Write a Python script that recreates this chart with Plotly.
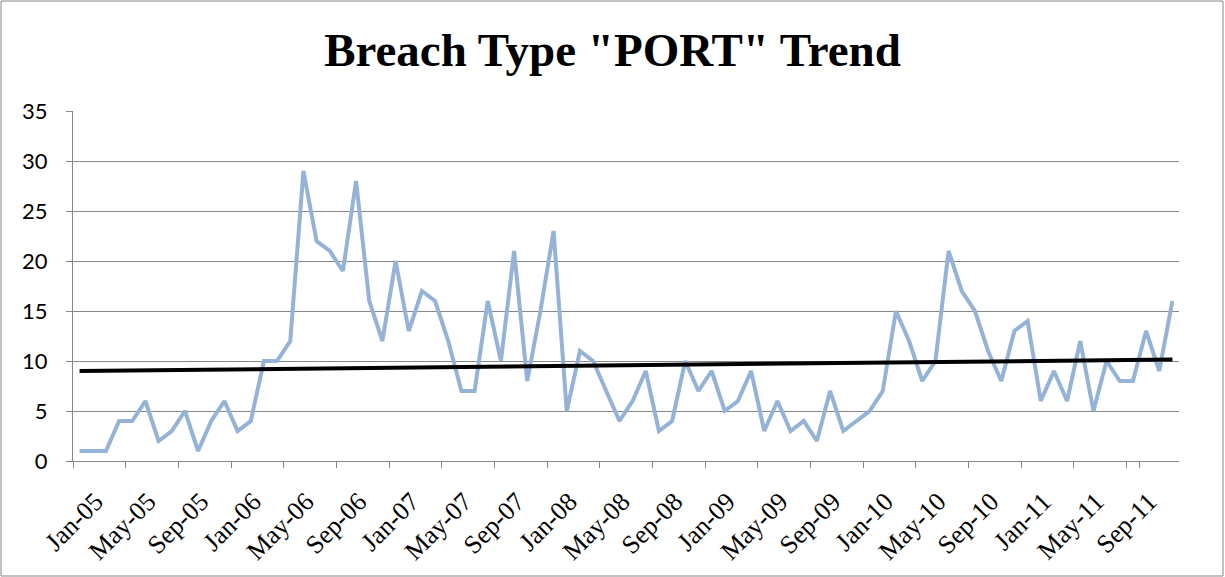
import numpy as np
import plotly.graph_objects as go

# months Jan-05 .. Dec-11
years = ["05", "06", "07", "08", "09", "10", "11"]
month_names = ["Jan", "Feb", "Mar", "Apr", "May", "Jun",
               "Jul", "Aug", "Sep", "Oct", "Nov", "Dec"]
months = [f"{m}-{y}" for y in years for m in month_names]

port_counts = [
    1, 1, 1, 4, 4, 6, 2, 3, 5, 1, 4, 6,          # 2005
    3, 4, 10, 10, 12, 29, 22, 21, 19, 28, 16, 12,  # 2006
    20, 13, 17, 16, 12, 7, 7, 16, 10, 21, 8, 15,   # 2007
    23, 5, 11, 10, 7, 4, 6, 9, 3, 4, 10, 7,        # 2008
    9, 5, 6, 9, 3, 6, 3, 4, 2, 7, 3, 4,            # 2009
    5, 7, 15, 12, 8, 10, 21, 17, 15, 11, 8, 13,    # 2010
    14, 6, 9, 6, 12, 5, 10, 8, 8, 13, 9, 16,       # 2011
]

tick_labels = months[::4]
y_ticks = [0, 5, 10, 15, 20, 25, 30, 35]

# linear trend line (as Excel's linear trendline)
idx = np.arange(len(port_counts))
slope, intercept = np.polyfit(idx, port_counts, 1)
trend = slope * idx + intercept

fig = go.Figure()
fig.add_trace(go.Scatter(
    x=months, y=port_counts, mode="lines",
    line=dict(color="#95B3D7", width=4),
    name="PORT",
))
fig.add_trace(go.Scatter(
    x=months, y=trend, mode="lines",
    line=dict(color="#000000", width=4),
    name="Trend",
))

grid = "#868686"
W, H = 1225, 577
L, R, T, B = 73, 46, 111, 116
pw, ph = W - L - R, H - T - B

fig.update_layout(
    width=W, height=H,
    margin=dict(l=L, r=R, t=T, b=B),
    paper_bgcolor="white",
    plot_bgcolor="white",
    showlegend=False,
    title=dict(
        text='Breach Type "PORT" Trend',
        x=0.5, xanchor="center",
        y=1 - 50 / H, yanchor="middle",
        font=dict(family="Liberation Serif", size=47, color="black", weight="bold"),
    ),
    xaxis=dict(
        type="category",
        range=[-0.5, len(months) - 0.5],
        tickmode="array",
        tickvals=tick_labels,
        ticktext=tick_labels,
        tickangle=-45,
        tickson="boundaries",
        ticks="outside", ticklen=6, tickcolor=grid,
        ticklabelshift=16,
        ticklabelstandoff=14,
        showline=True, linecolor=grid, linewidth=1,
        showgrid=False,
        tickfont=dict(family="Liberation Serif", size=26, color="black"),
    ),
    yaxis=dict(
        range=[0, 35],
        tickvals=y_ticks,
        ticks="outside", ticklen=6, tickcolor=grid,
        ticklabelstandoff=14,
        showline=True, linecolor=grid, linewidth=1,
        showgrid=True, gridcolor=grid, gridwidth=1,
        zeroline=False,
        tickfont=dict(family="Lato", size=22, color="black"),
    ),
    shapes=[dict(
        type="rect", xref="paper", yref="paper",
        x0=(1 - L) / pw, x1=(W - 2 - L) / pw,
        y0=-(B - 1) / ph, y1=1 + (T - 1) / ph,
        line=dict(color=grid, width=1),
    )],
)

fig.write_html("out.html", config={"displayModeBar": False},
               post_script="document.body.style.margin='0';")
